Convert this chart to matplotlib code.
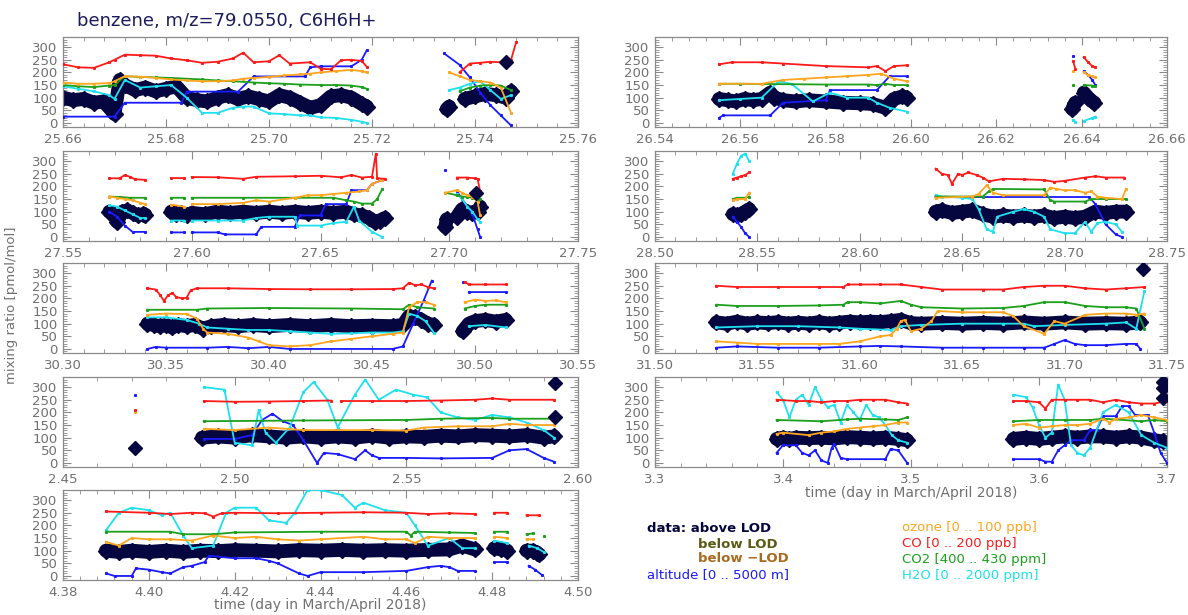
import numpy as np
import matplotlib
matplotlib.use("Agg")
import matplotlib.pyplot as plt
from matplotlib.ticker import MultipleLocator, FormatStrFormatter, AutoMinorLocator

nan = float("nan")
gap = (nan, nan)

# ---- panel 1 : 25.66 .. 25.76
bz_1 = [(25.660, 100), (25.662, 90), (25.664, 95), (25.666, 80), (25.668, 85), (25.669, 60), (25.670, 35),
        (25.671, 170), (25.672, 150), (25.674, 130), (25.676, 140), (25.678, 125), (25.680, 135), (25.682, 145),
        (25.684, 100), (25.686, 90), (25.688, 85), (25.690, 100), (25.692, 110), (25.694, 95), (25.696, 105),
        (25.698, 95), (25.700, 85), (25.702, 110), (25.704, 100), (25.706, 80), (25.708, 60), (25.710, 70),
        (25.712, 105), (25.714, 110), (25.716, 100), (25.718, 75), (25.719, 65), gap,
        (25.7345, 55), (25.735, 65), gap,
        (25.738, 95), (25.740, 105), (25.742, 115), (25.744, 110), (25.746, 100), (25.747, 125)]
bz_1_extra = [(25.746, 240)]
co_1 = [(25.660, 232), (25.663, 220), (25.666, 218), (25.669, 240), (25.670, 250), (25.672, 270), (25.675, 268),
        (25.678, 266), (25.681, 255), (25.684, 248), (25.687, 238), (25.690, 242), (25.693, 255), (25.695, 278),
        (25.697, 240), (25.700, 244), (25.702, 268), (25.704, 235), (25.708, 240), (25.710, 215), (25.712, 212),
        (25.714, 248), (25.716, 250), (25.718, 245), (25.719, 222), gap,
        (25.737, 200), (25.739, 235), (25.741, 238), (25.743, 242), (25.745, 240), (25.747, 250), (25.748, 320)]
co2_1 = [(25.660, 150), (25.663, 145), (25.666, 142), (25.669, 148), (25.670, 150), (25.672, 185), (25.675, 182),
         (25.678, 180), (25.681, 178), (25.684, 175), (25.687, 172), (25.690, 168), (25.693, 165), (25.697, 160),
         (25.700, 157), (25.703, 155), (25.706, 152), (25.710, 150), (25.713, 150), (25.716, 148), (25.718, 142),
         (25.719, 135), gap,
         (25.737, 125), (25.739, 140), (25.741, 148), (25.743, 150), (25.745, 148), (25.747, 130)]
o3_1 = [(25.660, 160), (25.663, 155), (25.666, 155), (25.669, 158), (25.670, 165), (25.672, 185), (25.675, 183),
        (25.678, 178), (25.681, 172), (25.684, 168), (25.687, 165), (25.690, 165), (25.693, 168), (25.695, 175),
        (25.697, 178), (25.700, 182), (25.703, 188), (25.706, 192), (25.708, 195), (25.710, 200), (25.713, 205),
        (25.716, 210), (25.718, 205), (25.719, 200), gap,
        (25.735, 200), (25.737, 185), (25.739, 170), (25.741, 165), (25.743, 160), (25.745, 140), (25.747, 40)]
h2o_1 = [(25.660, 145), (25.663, 135), (25.666, 125), (25.669, 110), (25.670, 95), (25.672, 170), (25.675, 140),
         (25.678, 145), (25.681, 150), (25.684, 100), (25.687, 40), (25.690, 40), (25.693, 60), (25.695, 65),
         (25.697, 65), (25.700, 38), (25.703, 35), (25.706, 30), (25.708, 30), (25.710, 22), (25.713, 20),
         (25.716, 12), (25.718, 5), (25.719, 0), gap,
         (25.735, 130), (25.737, 140), (25.739, 155), (25.741, 165), (25.743, 130), (25.745, 95), (25.747, 110)]
alt_1 = [(25.660, 25), (25.670, 25), (25.672, 80), (25.683, 80), (25.684, 124), (25.694, 124), (25.697, 184),
         (25.707, 184), (25.708, 220), (25.710, 224), (25.716, 224), (25.718, 250), (25.719, 288), gap,
         (25.734, 275), (25.737, 230), (25.739, 180), (25.741, 120), (25.743, 70), (25.745, 30), (25.747, -10)]

# ---- panel 2 : 27.55 .. 27.75
bz_2 = [(27.568, 100), (27.570, 90), (27.571, 60), (27.573, 100), (27.575, 105), (27.577, 95), (27.579, 85),
        (27.581, 90), (27.582, 88), gap,
        (27.592, 100), (27.594, 90), (27.596, 95), (27.598, 85), gap,
        (27.600, 95), (27.605, 90), (27.610, 100), (27.615, 95), (27.620, 100), (27.625, 95), (27.630, 100),
        (27.635, 95), (27.640, 100), (27.645, 95), (27.650, 100), (27.655, 95), (27.660, 100), (27.663, 90),
        (27.666, 85), (27.669, 75), (27.671, 60), (27.673, 65), (27.675, 75), gap,
        (27.6985, 40), (27.699, 70), gap,
        (27.703, 80), (27.705, 110), (27.707, 100), (27.709, 95), (27.711, 100), (27.712, 120)]
bz_2_extra = [(27.7105, 175)]
co_2 = [(27.568, 232), (27.572, 232), (27.574, 245), (27.576, 238), (27.578, 228), (27.582, 226), gap,
        (27.592, 233), (27.597, 233), gap,
        (27.600, 237), (27.610, 236), (27.620, 230), (27.625, 238), (27.640, 240), (27.650, 242), (27.658, 236),
        (27.662, 245), (27.666, 235), (27.670, 238), (27.6715, 330), (27.672, 232), (27.675, 230), gap,
        (27.703, 235), (27.707, 235), (27.710, 232), (27.711, 230), (27.712, 180)]
co2_2 = [(27.568, 160), (27.572, 158), (27.576, 155), (27.582, 155), gap,
         (27.592, 155), (27.597, 155), gap,
         (27.600, 155), (27.620, 155), (27.640, 155), (27.655, 155), (27.660, 145), (27.663, 140), (27.666, 132),
         (27.670, 132), (27.672, 150), (27.674, 190), gap,
         (27.6985, 175), (27.703, 165), (27.705, 160), (27.707, 158), (27.709, 155), (27.711, 150), (27.712, 150)]
o3_2 = [(27.568, 160), (27.571, 155), (27.574, 150), (27.577, 145), (27.580, 135), (27.582, 130), gap,
        (27.592, 128), (27.597, 120), gap,
        (27.600, 130), (27.610, 130), (27.620, 135), (27.625, 145), (27.630, 140), (27.640, 155), (27.645, 165),
        (27.650, 165), (27.655, 170), (27.660, 175), (27.665, 180), (27.668, 185), (27.670, 210), (27.674, 225), gap,
        (27.6985, 175), (27.703, 185), (27.705, 175), (27.707, 165), (27.709, 160), (27.711, 140), (27.712, 85)]
h2o_2 = [(27.568, 125), (27.571, 120), (27.574, 105), (27.577, 90), (27.580, 75), (27.582, 75), gap,
         (27.592, 65), (27.597, 65), gap,
         (27.600, 65), (27.610, 65), (27.620, 65), (27.625, 75), (27.630, 80), (27.640, 80), (27.641, 45),
         (27.650, 45), (27.655, 55), (27.660, 60), (27.663, 120), (27.665, 65), (27.670, 20), (27.674, 0), gap,
         (27.703, 170), (27.705, 150), (27.707, 120), (27.709, 100), (27.711, 70), (27.712, 60)]
alt_2 = [(27.568, 100), (27.571, 80), (27.574, 45), (27.577, 20), (27.582, 20), gap,
         (27.592, 18), (27.597, 18), gap,
         (27.600, 18), (27.610, 18), (27.613, 10), (27.625, 10), (27.627, 40), (27.640, 40), (27.642, 85),
         (27.650, 85), (27.652, 130), (27.660, 130), (27.662, 185), (27.668, 185), (27.670, 210), (27.674, 225), gap,
         (27.6985, 265), gap,
         (27.703, 180), (27.705, 150), (27.707, 120), (27.709, 90), (27.711, 30), (27.712, 0)]

# ---- panel 3 : 30.30 .. 30.55
bz_3 = [(30.341, 100), (30.344, 95), (30.347, 90), (30.350, 95), (30.353, 85), (30.356, 95), (30.360, 90),
        (30.364, 95), (30.368, 80), (30.372, 90), (30.378, 95), (30.385, 90), (30.392, 95), (30.400, 90),
        (30.410, 95), (30.420, 90), (30.430, 95), (30.440, 90), (30.450, 92), (30.460, 90), (30.465, 95),
        (30.468, 130), (30.471, 125), (30.474, 115), (30.477, 100), (30.480, 95), gap,
        (30.494, 70), (30.497, 100), (30.500, 110), (30.505, 115), (30.510, 108), (30.515, 115)]
bz_3_extra = []
co_3 = [(30.341, 240), (30.345, 235), (30.347, 215), (30.349, 190), (30.351, 212), (30.353, 222), (30.355, 205),
        (30.358, 200), (30.360, 203), (30.362, 232), (30.365, 240), (30.380, 240), (30.400, 237), (30.420, 236),
        (30.440, 236), (30.460, 237), (30.465, 240), (30.468, 262), (30.471, 252), (30.474, 255), (30.477, 245),
        (30.480, 240), gap,
        (30.495, 265), (30.497, 255), (30.505, 255), (30.515, 255)]
co2_3 = [(30.341, 155), (30.365, 155), (30.370, 160), (30.400, 162), (30.440, 160), (30.465, 157), (30.468, 175),
         (30.472, 165), (30.480, 160), gap,
         (30.495, 160), (30.500, 170), (30.505, 175), (30.515, 175)]
o3_3 = [(30.341, 135), (30.350, 140), (30.360, 138), (30.365, 120), (30.368, 80), (30.370, 65), (30.380, 60),
        (30.390, 45), (30.395, 30), (30.400, 15), (30.410, 10), (30.420, 15), (30.430, 30), (30.440, 40),
        (30.450, 50), (30.460, 60), (30.465, 65), (30.468, 165), (30.472, 185), (30.476, 185), (30.480, 175), gap,
        (30.495, 185), (30.500, 195), (30.505, 190), (30.510, 192), (30.515, 185)]
h2o_3 = [(30.341, 125), (30.350, 125), (30.360, 115), (30.366, 100), (30.370, 85), (30.380, 80), (30.390, 75),
         (30.400, 75), (30.410, 70), (30.420, 65), (30.430, 60), (30.440, 62), (30.450, 65), (30.460, 65),
         (30.465, 70), (30.468, 140), (30.472, 130), (30.476, 110), (30.480, 65), gap,
         (30.497, 90), (30.505, 95), (30.515, 85)]
alt_3 = [(30.341, 0), (30.345, 8), (30.350, 5), (30.370, 5), (30.380, 8), (30.390, 3), (30.400, 8), (30.410, 0),
         (30.460, 0), (30.465, 10), (30.470, 100), (30.475, 190), (30.479, 270), gap,
         (30.494, 265), gap,
         (30.497, 225), (30.515, 225)]

# ---- panel 4 : 2.45 .. 2.60
bz_4 = [(2.4905, 100), (2.495, 105), (2.500, 100), (2.505, 110), (2.510, 105), (2.515, 100), (2.520, 105),
        (2.525, 100), (2.530, 105), (2.535, 100), (2.540, 108), (2.545, 100), (2.550, 105), (2.555, 103),
        (2.560, 108), (2.565, 105), (2.570, 110), (2.575, 108), (2.580, 105), (2.585, 110), (2.590, 100),
        (2.593, 105)]
bz_4_extra = [(2.4709, 60), (2.5932, 180), (2.5932, 318)]
co_4 = [(2.4709, 210), gap,
        (2.491, 245), (2.500, 242), (2.510, 243), (2.520, 245), (2.528, 247), gap,
        (2.531, 245), (2.540, 245), (2.550, 245), (2.560, 247), (2.570, 250), (2.575, 255), (2.580, 250),
        (2.593, 250)]
co2_4 = [(2.491, 165), (2.520, 168), (2.550, 170), (2.560, 175), (2.575, 178), (2.580, 175), (2.593, 175)]
o3_4 = [(2.4709, 200), gap,
        (2.491, 135), (2.500, 130), (2.510, 140), (2.520, 130), (2.540, 130), (2.550, 128), (2.555, 140),
        (2.565, 145), (2.575, 145), (2.580, 155), (2.585, 150), (2.593, 150)]
h2o_4 = [(2.491, 300), (2.497, 290), (2.500, 80), (2.505, 70), (2.507, 210), (2.509, 120), (2.512, 80),
         (2.516, 140), (2.520, 280), (2.523, 320), (2.527, 250), (2.530, 140), (2.535, 270), (2.538, 330),
         (2.542, 250), (2.547, 290), (2.552, 270), (2.556, 260), (2.560, 200), (2.565, 180), (2.570, 170),
         (2.575, 190), (2.580, 180), (2.585, 160), (2.590, 130), (2.593, 100)]
alt_4 = [(2.4709, 270), gap,
         (2.491, 95), (2.500, 95), (2.505, 110), (2.508, 170), (2.511, 195), (2.514, 165), (2.517, 150),
         (2.520, 90), (2.524, 0), (2.526, 40), (2.530, 35), (2.535, 15), (2.538, 50), (2.540, 30), (2.542, 20),
         (2.550, 20), (2.560, 18), (2.575, 20), (2.580, 50), (2.585, 55), (2.590, 20), (2.593, 5)]

# ---- panel 5 : 4.38 .. 4.50
bz_5 = [(4.390, 100), (4.393, 95), (4.396, 100), (4.400, 95), (4.404, 100), (4.408, 95), (4.412, 100),
        (4.416, 98), (4.420, 102), (4.425, 100), (4.430, 97), (4.435, 102), (4.440, 100), (4.445, 103),
        (4.450, 100), (4.455, 102), (4.460, 100), (4.465, 103), (4.470, 105), (4.473, 120), (4.476, 105), gap,
        (4.4805, 110), (4.482, 105), (4.4835, 100), gap,
        (4.488, 100), (4.4895, 100), gap,
        (4.4905, 90), (4.491, 85)]
bz_5_extra = []
co_5 = [(4.390, 255), (4.400, 250), (4.405, 245), (4.410, 250), (4.413, 248), (4.415, 235), (4.417, 248),
        (4.420, 250), (4.430, 248), (4.440, 250), (4.450, 252), (4.460, 250), (4.465, 245), (4.470, 248),
        (4.476, 245), gap,
        (4.4805, 250), (4.4835, 250), gap,
        (4.488, 240), (4.491, 240)]
co2_5 = [(4.390, 175), (4.405, 175), (4.408, 165), (4.415, 165), (4.420, 172), (4.440, 175), (4.460, 175),
         (4.461, 160), (4.462, 175), (4.470, 172), (4.476, 170), gap,
         (4.4805, 175), (4.4835, 175), gap,
         (4.488, 165), (4.4895, 168), gap,
         (4.492, 160)]
o3_5 = [(4.390, 135), (4.393, 120), (4.396, 150), (4.400, 145), (4.405, 145), (4.410, 140), (4.415, 160),
        (4.420, 150), (4.425, 155), (4.430, 145), (4.435, 140), (4.440, 145), (4.450, 155), (4.455, 145),
        (4.460, 145), (4.462, 130), (4.465, 155), (4.470, 150), (4.476, 150), gap,
        (4.4805, 155), (4.4835, 150), gap,
        (4.488, 145), (4.4895, 145)]
h2o_5 = [(4.390, 180), (4.393, 250), (4.396, 270), (4.400, 260), (4.403, 240), (4.405, 250), (4.408, 160),
         (4.410, 110), (4.415, 120), (4.418, 250), (4.420, 270), (4.425, 270), (4.428, 220), (4.432, 210),
         (4.434, 250), (4.437, 340), (4.440, 340), (4.445, 320), (4.448, 270), (4.450, 290), (4.455, 260),
         (4.460, 250), (4.462, 200), (4.465, 120), (4.470, 150), (4.473, 110), (4.476, 110), gap,
         (4.4805, 140), (4.4835, 130), gap,
         (4.4885, 120), (4.4905, 110), (4.492, 95)]
alt_5 = [(4.390, 10), (4.392, 0), (4.396, 0), (4.397, 30), (4.400, 25), (4.403, 15), (4.405, 10), (4.408, 35),
         (4.410, 40), (4.413, 55), (4.414, 80), (4.420, 70), (4.425, 70), (4.428, 60), (4.430, 50), (4.435, 10),
         (4.437, 0), (4.440, 15), (4.450, 15), (4.460, 20), (4.465, 35), (4.468, 40), (4.470, 35), (4.472, 20),
         (4.476, 20), gap,
         (4.4805, 55), (4.4835, 55), gap,
         (4.4885, 40), (4.490, 25), (4.4915, 5)]

# ---- panel 6 : 26.54 .. 26.66
bz_6 = [(26.555, 95), (26.557, 90), (26.559, 85), (26.561, 95), (26.563, 90), (26.565, 95), (26.567, 120),
        (26.568, 100), (26.570, 90), (26.573, 85), (26.576, 90), (26.580, 85), (26.584, 80), (26.588, 78),
        (26.591, 75), (26.594, 60), (26.596, 95), (26.598, 105), (26.599, 100), gap,
        (26.6378, 55), (26.6385, 80), gap,
        (26.6405, 120), (26.6415, 100), (26.6425, 85), (26.643, 80)]
bz_6_extra = []
co_6 = [(26.555, 232), (26.558, 240), (26.565, 240), (26.570, 235), (26.580, 225), (26.590, 220), (26.592, 225),
        (26.594, 205), (26.596, 225), (26.599, 228), gap,
        (26.638, 245), (26.6385, 215), gap,
        (26.6405, 260), (26.6415, 240), (26.6425, 225), (26.6432, 220)]
co2_6 = [(26.555, 155), (26.560, 155), (26.580, 152), (26.590, 152), (26.592, 150), (26.594, 155), (26.596, 150),
         (26.599, 150), gap,
         (26.638, 150), gap,
         (26.6405, 150), (26.6425, 148), (26.6432, 145)]
o3_6 = [(26.555, 155), (26.565, 155), (26.570, 170), (26.575, 175), (26.580, 180), (26.585, 185), (26.590, 190),
        (26.593, 195), (26.596, 175), (26.599, 165), gap,
        (26.638, 205), gap,
        (26.6405, 200), (26.6415, 190), (26.6425, 185), (26.6432, 180)]
h2o_6 = [(26.555, 90), (26.560, 95), (26.565, 100), (26.569, 165), (26.572, 155), (26.577, 85), (26.581, 120),
         (26.585, 100), (26.590, 100), (26.592, 80), (26.595, 60), (26.599, 45), gap,
         (26.638, 10), (26.6385, 5), gap,
         (26.6405, 8), (26.6425, 20), (26.6432, 25)]
alt_6 = [(26.555, 20), (26.556, 30), (26.567, 30), (26.570, 80), (26.580, 90), (26.581, 130), (26.592, 130),
         (26.595, 185), (26.599, 185), gap,
         (26.638, 265), gap,
         (26.6405, 205), (26.6415, 190), (26.6425, 170), (26.6432, 150)]

# ---- panel 7 : 28.50 .. 28.75
bz_7 = [(28.538, 90), (28.540, 85), (28.542, 90), (28.544, 100), (28.546, 110), gap,
        (28.637, 100), (28.640, 105), (28.645, 95), (28.650, 100), (28.655, 105), (28.660, 90), (28.665, 80),
        (28.670, 85), (28.675, 80), (28.680, 85), (28.685, 80), (28.690, 85), (28.695, 75), (28.700, 80),
        (28.705, 75), (28.710, 80), (28.715, 100), (28.720, 95), (28.725, 100), (28.730, 100)]
bz_7_extra = []
co_7 = [(28.538, 230), (28.540, 235), (28.542, 240), (28.544, 245), (28.546, 255), gap,
        (28.637, 270), (28.640, 250), (28.643, 245), (28.645, 210), (28.648, 250), (28.650, 245), (28.653, 255),
        (28.657, 245), (28.660, 235), (28.663, 220), (28.670, 230), (28.680, 228), (28.690, 225), (28.695, 218),
        (28.700, 222), (28.710, 235), (28.715, 240), (28.720, 235), (28.729, 235)]
co2_7 = [(28.538, 150), (28.540, 155), (28.544, 155), (28.546, 160), gap,
         (28.637, 160), (28.660, 160), (28.663, 180), (28.665, 190), (28.690, 188), (28.693, 145), (28.695, 140),
         (28.710, 140), (28.713, 150), (28.720, 150), (28.730, 150)]
o3_7 = [(28.538, 145), (28.540, 150), (28.544, 150), (28.546, 175), gap,
        (28.637, 155), (28.655, 160), (28.658, 170), (28.662, 205), (28.665, 175), (28.670, 165), (28.690, 165),
        (28.693, 195), (28.696, 190), (28.700, 185), (28.705, 185), (28.710, 175), (28.713, 180), (28.716, 160),
        (28.720, 155), (28.728, 150), (28.730, 190)]
h2o_7 = [(28.538, 250), (28.540, 290), (28.542, 320), (28.544, 330), (28.546, 300), gap,
         (28.637, 165), (28.640, 160), (28.650, 155), (28.655, 150), (28.658, 110), (28.662, 30), (28.665, 20),
         (28.667, 80), (28.675, 100), (28.680, 110), (28.685, 100), (28.690, 80), (28.693, 30), (28.700, 15),
         (28.705, 15), (28.710, 60), (28.713, 20), (28.716, 55), (28.720, 60), (28.725, 50), (28.728, 20)]
alt_7 = [(28.538, 80), (28.540, 60), (28.542, 40), (28.544, 15), (28.546, 0), gap,
         (28.637, 158), (28.712, 158), (28.715, 130), (28.720, 50), (28.725, 10), (28.728, 0)]

# ---- panel 8 : 31.50 .. 31.75
bz_8 = [(31.530, 105), (31.535, 100), (31.540, 108), (31.545, 100), (31.550, 105), (31.555, 102), (31.560, 106),
        (31.565, 100), (31.570, 104), (31.575, 100), (31.580, 106), (31.585, 100), (31.590, 104), (31.595, 108),
        (31.600, 105), (31.605, 108), (31.610, 106), (31.615, 110), (31.620, 115), (31.625, 102), (31.630, 100),
        (31.640, 103), (31.650, 100), (31.660, 103), (31.670, 100), (31.680, 105), (31.690, 100), (31.700, 105),
        (31.710, 100), (31.720, 102), (31.730, 100), (31.737, 105)]
bz_8_extra = [(31.7385, 315)]
co_8 = [(31.530, 250), (31.540, 245), (31.560, 245), (31.580, 245), (31.592, 245), (31.594, 255), (31.600, 255),
        (31.610, 255), (31.620, 255), (31.630, 245), (31.640, 235), (31.660, 235), (31.670, 235), (31.680, 245),
        (31.690, 250), (31.700, 250), (31.710, 240), (31.720, 235), (31.730, 240), (31.739, 245)]
co2_8 = [(31.530, 175), (31.540, 170), (31.560, 170), (31.580, 172), (31.592, 175), (31.594, 185), (31.600, 185),
         (31.610, 180), (31.620, 190), (31.625, 175), (31.630, 165), (31.650, 160), (31.670, 162), (31.680, 170),
         (31.690, 185), (31.700, 185), (31.710, 170), (31.720, 165), (31.730, 165), (31.735, 160), (31.739, 80)]
o3_8 = [(31.530, 30), (31.540, 25), (31.550, 20), (31.560, 20), (31.580, 20), (31.590, 20), (31.600, 30),
        (31.610, 50), (31.615, 55), (31.618, 80), (31.620, 110), (31.622, 115), (31.625, 70), (31.630, 80),
        (31.635, 110), (31.638, 150), (31.650, 145), (31.660, 145), (31.670, 145), (31.675, 130), (31.680, 90),
        (31.690, 60), (31.695, 110), (31.700, 100), (31.710, 135), (31.720, 140), (31.730, 140), (31.735, 135),
        (31.739, 140)]
h2o_8 = [(31.530, 85), (31.550, 90), (31.570, 90), (31.590, 85), (31.600, 80), (31.615, 75), (31.620, 90),
         (31.630, 95), (31.650, 100), (31.670, 100), (31.680, 100), (31.685, 90), (31.700, 95), (31.720, 100),
         (31.730, 105), (31.735, 80), (31.739, 230)]
alt_8 = [(31.530, 5), (31.540, 10), (31.560, 5), (31.580, 5), (31.600, 10), (31.610, 12), (31.620, 10),
         (31.640, 5), (31.660, 5), (31.680, 5), (31.690, 5), (31.695, 20), (31.700, 35), (31.705, 20),
         (31.710, 15), (31.720, 15), (31.730, 20), (31.735, 20), (31.737, 0)]

# ---- panel 9 : 3.3 .. 3.7
bz_9 = [(3.395, 95), (3.400, 100), (3.405, 95), (3.410, 100), (3.420, 98), (3.430, 100), (3.440, 97),
        (3.450, 102), (3.460, 100), (3.470, 97), (3.480, 100), (3.490, 95), (3.497, 90), gap,
        (3.580, 95), (3.590, 100), (3.600, 95), (3.610, 100), (3.620, 105), (3.630, 100), (3.640, 105),
        (3.650, 105), (3.660, 100), (3.670, 105), (3.680, 100), (3.690, 90), (3.697, 85)]
bz_9_extra = [(3.697, 320), (3.697, 295), (3.697, 258)]
co_9 = [(3.395, 250), (3.410, 245), (3.420, 245), (3.430, 240), (3.440, 245), (3.450, 245), (3.460, 250),
        (3.470, 250), (3.480, 250), (3.490, 240), (3.497, 235), gap,
        (3.580, 245), (3.590, 245), (3.600, 240), (3.605, 215), (3.610, 250), (3.620, 250), (3.630, 250),
        (3.640, 250), (3.650, 240), (3.660, 250), (3.670, 240), (3.680, 235), (3.690, 235), (3.700, 245)]
co2_9 = [(3.395, 170), (3.430, 165), (3.450, 172), (3.460, 175), (3.480, 172), (3.490, 170), (3.497, 180), gap,
         (3.580, 165), (3.600, 170), (3.620, 170), (3.640, 170), (3.650, 175), (3.660, 172), (3.680, 165),
         (3.690, 170), (3.700, 165)]
o3_9 = [(3.395, 115), (3.400, 120), (3.420, 110), (3.430, 120), (3.440, 125), (3.450, 135), (3.460, 140),
        (3.470, 145), (3.480, 150), (3.490, 160), (3.497, 160), gap,
        (3.580, 150), (3.590, 155), (3.600, 140), (3.610, 145), (3.620, 150), (3.630, 150), (3.640, 155),
        (3.650, 175), (3.655, 160), (3.660, 175), (3.670, 180), (3.680, 190), (3.690, 180), (3.700, 170)]
h2o_9 = [(3.395, 280), (3.400, 250), (3.405, 180), (3.410, 250), (3.415, 270), (3.420, 230), (3.425, 300),
         (3.430, 250), (3.435, 220), (3.440, 230), (3.445, 160), (3.450, 230), (3.455, 200), (3.460, 170),
         (3.465, 230), (3.470, 190), (3.475, 180), (3.480, 150), (3.485, 110), (3.490, 90), (3.497, 80), gap,
         (3.580, 270), (3.590, 260), (3.595, 220), (3.600, 150), (3.605, 100), (3.610, 120), (3.615, 310),
         (3.620, 250), (3.625, 70), (3.630, 40), (3.635, 30), (3.640, 60), (3.650, 200), (3.660, 230),
         (3.670, 200), (3.680, 110), (3.690, 80), (3.700, 60)]
alt_9 = [(3.395, 40), (3.400, 70), (3.410, 70), (3.415, 40), (3.420, 30), (3.425, 50), (3.430, 10), (3.435, 0),
         (3.438, 60), (3.440, 75), (3.445, 20), (3.450, 15), (3.480, 15), (3.484, 55), (3.490, 50), (3.497, 0), gap,
         (3.580, 15), (3.600, 15), (3.605, 5), (3.610, 5), (3.615, 50), (3.620, 70), (3.625, 90), (3.635, 90),
         (3.640, 130), (3.645, 130), (3.650, 185), (3.660, 185), (3.665, 225), (3.670, 225), (3.675, 190),
         (3.685, 190), (3.690, 120), (3.695, 40), (3.700, 0)]

xlims = [(25.66, 25.76), (27.55, 27.75), (30.30, 30.55), (2.45, 2.60), (4.38, 4.50),
         (26.54, 26.66), (28.50, 28.75), (31.50, 31.75), (3.3, 3.7)]
xsteps = [0.02, 0.05, 0.05, 0.05, 0.02, 0.02, 0.05, 0.05, 0.1]
xfmts = ["%.2f"] * 8 + ["%.1f"]

NAVY = "#05053f"
C_CO = "#ff1a1a"
C_CO2 = "#1ca01c"
C_O3 = "#ffa51e"
C_H2O = "#1ee0ee"
C_ALT = "#1a1aff"
GRAY = "#707070"

W, H = 1188, 615
fig = plt.figure(figsize=(W / 100, H / 100), dpi=100)


def xy(pairs):
    a = np.array(pairs, dtype=float).reshape(-1, 2)
    return a[:, 0], a[:, 1]


def rect(x0, top, w, h=90):
    return [x0 / W, 1 - (top + h) / H, w / W, h / H]


tops = [37, 151, 263, 377, 490]
rects = [rect(63, t, 515) for t in tops] + [rect(655, t, 512) for t in tops[:4]]

panels = [
    (bz_1, bz_1_extra, co_1, co2_1, o3_1, h2o_1, alt_1),
    (bz_2, bz_2_extra, co_2, co2_2, o3_2, h2o_2, alt_2),
    (bz_3, bz_3_extra, co_3, co2_3, o3_3, h2o_3, alt_3),
    (bz_4, bz_4_extra, co_4, co2_4, o3_4, h2o_4, alt_4),
    (bz_5, bz_5_extra, co_5, co2_5, o3_5, h2o_5, alt_5),
    (bz_6, bz_6_extra, co_6, co2_6, o3_6, h2o_6, alt_6),
    (bz_7, bz_7_extra, co_7, co2_7, o3_7, h2o_7, alt_7),
    (bz_8, bz_8_extra, co_8, co2_8, o3_8, h2o_8, alt_8),
    (bz_9, bz_9_extra, co_9, co2_9, o3_9, h2o_9, alt_9),
]

for i, (bz, bzx, co, co2, o3, h2o, alt) in enumerate(panels):
    ax = fig.add_axes(rects[i])
    # benzene: thick band of diamonds
    t, v = xy(bz)
    ax.plot(t, v, color=NAVY, lw=10, solid_capstyle="round", solid_joinstyle="round", zorder=2)
    ax.plot(t, v, "D", color=NAVY, ms=8, zorder=2)
    if bzx:
        t, v = xy(bzx)
        ax.plot(t, v, "D", color=NAVY, ms=7, zorder=5)
    for series, col in [(alt, C_ALT), (h2o, C_H2O), (co2, C_CO2), (o3, C_O3), (co, C_CO)]:
        t, v = xy(series)
        ax.plot(t, v, color=col, lw=1.3, marker="s", ms=1.2, zorder=3)

    ax.set_xlim(*xlims[i])
    ax.set_ylim(-16, 340)
    ax.xaxis.set_major_locator(MultipleLocator(xsteps[i]))
    ax.xaxis.set_major_formatter(FormatStrFormatter(xfmts[i]))
    ax.xaxis.set_minor_locator(AutoMinorLocator(5))
    ax.yaxis.set_major_locator(MultipleLocator(50))
    ax.yaxis.set_minor_locator(MultipleLocator(10))
    ax.tick_params(which="both", direction="in", top=True, right=True, color="#8a8a8a")
    ax.tick_params(which="major", length=6, width=0.8, labelsize=9.5, labelcolor=GRAY, pad=4)
    ax.tick_params(which="minor", length=3, width=0.6)
    for s in ax.spines.values():
        s.set_color("#8a8a8a")
        s.set_linewidth(0.9)

fig.text(77 / W, 1 - 21 / H, "benzene, m/z=79.0550, C6H6H+", fontsize=13, color="#1c1c5c", va="center")
fig.text(12 / W, 1 - 305 / H, "mixing ratio [pmol/mol]", rotation=90, va="center", ha="center",
         fontsize=9.5, color=GRAY)
fig.text(320 / W, 1 - 605 / H, "time (day in March/April 2018)", ha="center", va="center",
         fontsize=10, color=GRAY)
fig.text(911 / W, 1 - 493 / H, "time (day in March/April 2018)", ha="center", va="center",
         fontsize=10, color=GRAY)

# legend text block
legend_left = [(647, 528, "data: above LOD", NAVY, "bold"),
               (698, 544, "below LOD", "#5a5a14", "bold"),
               (698, 559, "below \u2212LOD", "#a86a1e", "bold"),
               (647, 575, "altitude [0 .. 5000 m]", C_ALT, "normal")]
legend_right = [(902, 528, "ozone [0 .. 100 ppb]", C_O3),
                (902, 544, "CO [0 .. 200 ppb]", C_CO),
                (902, 559, "CO2 [400 .. 430 ppm]", C_CO2),
                (902, 575, "H2O [0 .. 2000 ppm]", C_H2O)]
for x, y, s, c, w in legend_left:
    fig.text(x / W, 1 - y / H, s, color=c, fontsize=9.5, fontweight=w, va="center")
for x, y, s, c in legend_right:
    fig.text(x / W, 1 - y / H, s, color=c, fontsize=9.5, va="center")

fig.savefig("out.png", dpi=100)
